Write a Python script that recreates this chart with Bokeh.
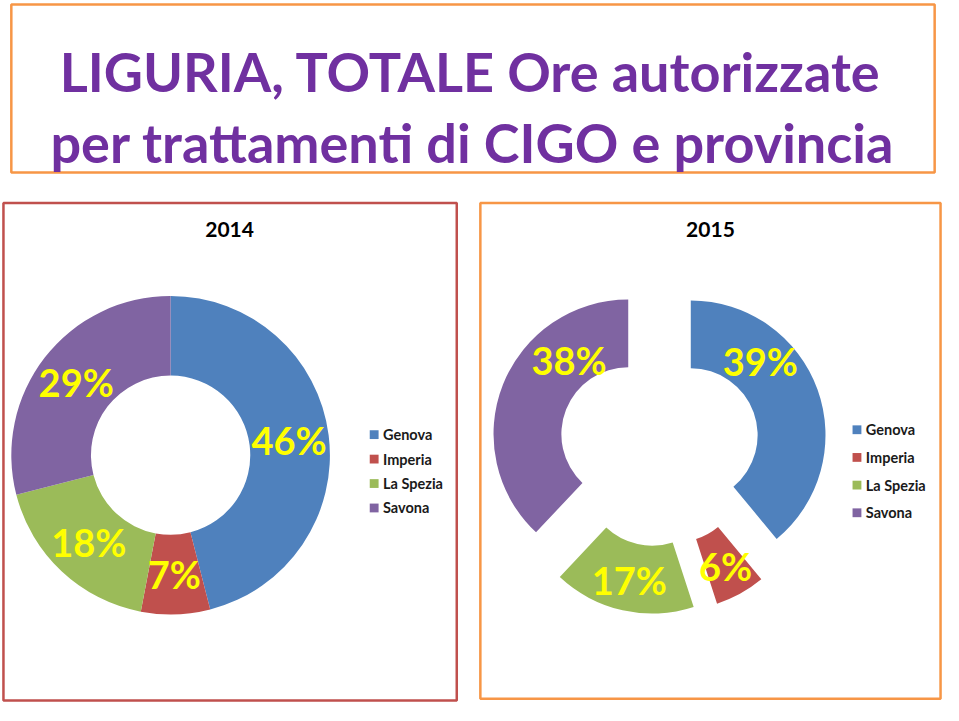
import math
from bokeh.plotting import figure
from bokeh.models import Range1d, ColumnDataSource
from bokeh.core.properties import value
from bokeh.embed import file_html
from bokeh.resources import INLINE

# ---------------- data ----------------
provinces = ["Genova", "Imperia", "La Spezia", "Savona"]
colors = ["#4F81BD", "#C0504D", "#9BBB59", "#8064A2"]
share_2014 = [46, 7, 18, 29]
share_2015 = [39, 6, 17, 38]
title_lines = ["LIGURIA, TOTALE Ore autorizzate", "per trattamenti di CIGO e provincia"]
panel_titles = ["2014", "2015"]

# ---------------- layout (reference pixel space, y flipped) ----------------
W, H = 959, 721
PW, PH = 943, 705
FONT = "Lato"


def Y(py):
    return H - py


p = figure(width=PW, height=PH, x_range=Range1d(0, W), y_range=Range1d(0, H),
           output_backend="svg", toolbar_location=None, min_border=0)
p.axis.visible = False
p.grid.visible = False
p.outline_line_color = None
p.background_fill_color = "white"
p.border_fill_color = "white"

# frames
p.quad(left=[11], right=[950], top=[Y(4)], bottom=[Y(176)], fill_color=None,
       line_color="#F79646", line_width=2.5)
p.quad(left=[3], right=[464], top=[Y(207)], bottom=[Y(716)], fill_color=None,
       line_color="#C0504D", line_width=2.5)
p.quad(left=[488], right=[956], top=[Y(207)], bottom=[Y(714)], fill_color=None,
       line_color="#F79646", line_width=2.5)

# main title
p.text(x=[478, 480], y=[Y(73), Y(145)], text=title_lines, text_align="center",
       text_baseline="alphabetic", text_color="#7030A0", text_font=value(FONT),
       text_font_style="bold", text_font_size="54px")

# panel titles
p.text(x=[233, 722], y=[Y(234), Y(234)], text=panel_titles, text_align="center",
       text_baseline="middle", text_color="black", text_font=value(FONT),
       text_font_style="bold", text_font_size="21px")


def donut(vals, cx, cy, R, r, explode, label_shift, label_dr, legend_x, legend_y0, legend_dy):
    total = float(sum(vals))
    starts, ends, xs, ys, lx, ly, labels = [], [], [], [], [], [], []
    cum = 0.0
    for i, v in enumerate(vals):
        a0 = cum / total * 2 * math.pi
        cum += v
        a1 = cum / total * 2 * math.pi
        mid = (a0 + a1) / 2
        ox = cx + explode * math.sin(mid)
        oy = cy + explode * math.cos(mid)
        starts.append(math.pi / 2 - a0)
        ends.append(math.pi / 2 - a1)
        xs.append(ox)
        ys.append(oy)
        la = mid + label_shift[i] / 100 * 2 * math.pi
        rm = (R + r) / 2 + label_dr[i]
        lx.append(ox + rm * math.sin(la))
        ly.append(oy + rm * math.cos(la))
        labels.append(f"{v}%")
    src = ColumnDataSource(dict(x=xs, y=ys, s=starts, e=ends, c=colors))
    p.annular_wedge(x="x", y="y", inner_radius=r, outer_radius=R, start_angle="s",
                    end_angle="e", direction="clock", fill_color="c",
                    line_color=None, source=src)
    p.text(x=lx, y=ly, text=labels, text_align="center", text_baseline="middle",
           text_color="#FFFF00", text_font=value(FONT), text_font_style="bold",
           text_font_size="38px")
    # legend
    ly0 = [legend_y0 - i * legend_dy for i in range(len(provinces))]
    p.rect(x=[legend_x] * len(provinces), y=ly0, width=9, height=9,
           fill_color=colors, line_color=None)
    p.text(x=[legend_x + 9] * len(provinces), y=ly0, text=provinces,
           text_align="left", text_baseline="middle", text_color="#1a1a1a",
           text_font=value(FONT), text_font_style="bold", text_font_size="14.5px")


donut(share_2014, 173, Y(465), 162, 81, 0, [0, 0, 0, 0], [0, 0, 0, 0],
      380, Y(444), 25)
donut(share_2015, 670, Y(456), 137, 68, 34, [-7.6, 0, 0, 8.3], [1.5, 3.5, 3.5, -6],
      871, Y(439), 28.3)

open("out.html", "w").write(file_html(p, INLINE))
